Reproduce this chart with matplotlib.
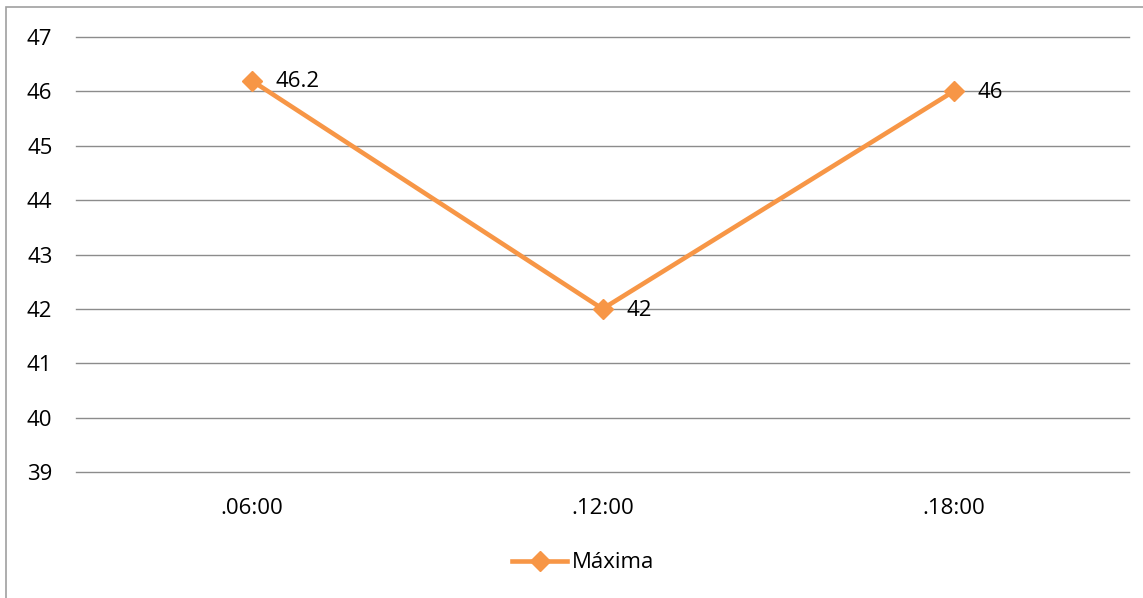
import matplotlib.pyplot as plt
from matplotlib.patches import Rectangle

plt.rcParams['font.family'] = ['Open Sans', 'DejaVu Sans']

# datos
horas = ['.06:00', '.12:00', '.18:00']
maxima = [46.2, 42, 46]
etiquetas = ['46.2', '42', '46']
y_ticks = [39, 40, 41, 42, 43, 44, 45, 46, 47]

naranja = '#F79646'
fs = 16

fig = plt.figure(figsize=(11.43, 5.98), dpi=100)
ax = fig.add_axes([0.0665, 0.2107, 0.9213, 0.7274])

# borde del grafico (solo se ve arriba e izquierda)
fig.patches.append(Rectangle((6 / 1143, -0.1), 1.2, 1 - 7 / 598 + 0.1,
                             transform=fig.transFigure, fill=False,
                             edgecolor='#A0A0A0', linewidth=1.2))

x = range(len(horas))
ax.plot(x, maxima, color=naranja, linewidth=3.3, marker='D', markersize=10,
        label='Máxima', zorder=3, clip_on=False)

for xi, yi, t in zip(x, maxima, etiquetas):
    ax.annotate(t, (xi, yi), xytext=(17, -1), textcoords='offset points',
                va='center', ha='left', fontsize=fs)

ax.set_xlim(-0.5, len(horas) - 0.5)
ax.set_ylim(39, 47)
ax.set_yticks(y_ticks)
ax.set_xticks(list(x))
ax.set_xticklabels(horas)
ax.tick_params(length=0, labelsize=fs)
ax.tick_params(axis='y', pad=17)
ax.tick_params(axis='x', pad=19)
ax.grid(axis='y', color='#8C8C8C', linewidth=1)
for gl in ax.get_ygridlines():
    gl.set_clip_on(False)
ax.set_axisbelow(True)
for s in ax.spines.values():
    s.set_visible(False)

fig.legend(loc='center', bbox_to_anchor=(0.51, 1 - 563 / 598), frameon=False,
           fontsize=fs, handlelength=2.5, handletextpad=0.2)

fig.savefig('out.png', dpi=100)
